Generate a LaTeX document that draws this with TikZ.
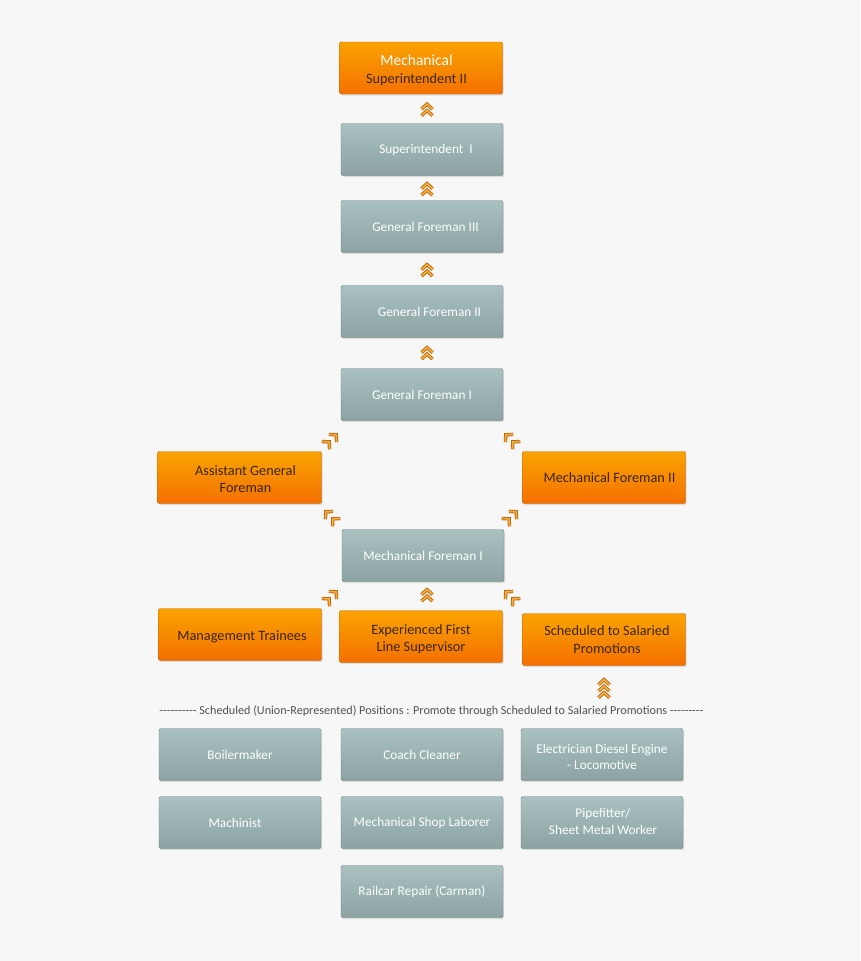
\documentclass[tikz,border=0pt]{standalone}
\usepackage{fontspec}
\setmainfont{Carlito}
\usetikzlibrary{shadows,calc}
\definecolor{bg}{HTML}{F7F7F7}
\definecolor{gtop}{HTML}{A9C1C1}
\definecolor{gbot}{HTML}{8CA2A3}
\definecolor{gline}{HTML}{6C8182}
\definecolor{otop}{HTML}{FAA300}
\definecolor{obot}{HTML}{F47000}
\definecolor{oline}{HTML}{C5640A}
\definecolor{otext}{HTML}{3A2600}
\definecolor{chevdark}{HTML}{B0660F}
\definecolor{chevfill}{HTML}{F7AE3A}
\definecolor{lbl}{HTML}{505050}
\def\hk{-\kern0pt}
\def\chevat#1{%
  \draw[chevdark, line width=3.4pt, line join=miter, miter limit=10] ($(#1)+(-5.5,2.6)$)--($(#1)+(0,-2.4)$)--($(#1)+(5.5,2.6)$);
  \draw[chevfill, line width=1.7pt, line join=miter, miter limit=10] ($(#1)+(-5.5,2.6)$)--($(#1)+(0,-2.4)$)--($(#1)+(5.5,2.6)$);}
% #1 left pad, #2 right pad, #3 vertical raise, #4 text
\newcommand\otx[4]{\hspace*{#1}\raisebox{#3}[\height][\depth]{\begin{tabular}{@{}c@{}}#4\end{tabular}}\hspace*{#2}}
\begin{document}
\begin{tikzpicture}[x=1pt,y=-1pt,
  box/.style={rectangle, minimum width=162pt, minimum height=52pt, rounded corners=1.5pt,
    align=center, inner sep=0pt,
    drop shadow={shadow xshift=1pt, shadow yshift=-1.5pt, opacity=0.22}},
  gbox/.style={box, draw=gline, top color=gtop, bottom color=gbot, text=white,
    font=\fontsize{13.3}{16.5}\selectfont},
  obox/.style={box, draw=oline, top color=otop, bottom color=obot, text=otext,
    font=\fontsize{14.3}{17.5}\selectfont},
  dchev/.pic={\chevat{0,-3}\chevat{0,3.5}},
  diagchev/.pic={\chevat{0,-5}\chevat{0,5}},
  tchev/.pic={\chevat{0,-6}\chevat{0,0.5}\chevat{0,7}}
]
\fill[bg] (0,0) rectangle (860,961);
\useasboundingbox (0,0) rectangle (860,961);

% top column
\node[obox, minimum width=163pt] (sup2) at (421,68)
  {\otx{0pt}{9pt}{-3pt}{{\color{white}\fontsize{15.5}{18.5}\selectfont Mechanical}\\Superintendent II}};
\node[gbox] (sup1) at (422,149.5) {\hspace*{8pt}Superintendent\ \ I};
\node[gbox] (gf3) at (422,226.5) {\hspace*{7pt}General Foreman III};
\node[gbox] (gf2) at (422,311.5) {\hspace*{15pt}General Foreman II};
\node[gbox] (gf1) at (422,394.5) {General Foreman I};

\node[obox, minimum width=164pt] (agf) at (239.5,477.5) {\otx{12pt}{0pt}{-3pt}{Assistant General\\Foreman}};
\node[obox, minimum width=163pt] (mf2) at (604,477.5) {\hspace*{11pt}Mechanical Foreman II};
\node[gbox] (mf1) at (423,555.5) {Mechanical Foreman I};

\node[obox, minimum width=163pt] (mt) at (240,634.5) {\otx{4pt}{0pt}{-2.5pt}{Management Trainees}};
\node[obox, minimum width=163pt] (efls) at (421,636.5) {\otx{0pt}{0pt}{-3pt}{Experienced First\\Line Supervisor}};
\node[obox, minimum width=163pt] (ssp) at (604,639.5) {\otx{6pt}{0pt}{-1.5pt}{Scheduled to Salaried\\Promotions}};

\node[text=lbl, font=\fontsize{12.15}{14}\selectfont, inner sep=0pt] (lab) at (431.5,711)
  {\hk\hk\hk\hk\hk\hk\hk\hk\hk\hk{} Scheduled (Union-Represented) Positions : Promote through Scheduled to Salaried Promotions \hk\hk\hk\hk\hk\hk\hk\hk\hk};

\node[gbox] (boil) at (240,754.5) {Boilermaker};
\node[gbox] (coach) at (422,754.5) {Coach Cleaner};
\node[gbox] (elec) at (602,754.5) {\otx{0pt}{0pt}{-3.5pt}{Electrician Diesel Engine\\- Locomotive}};
\node[gbox] (mach) at (240,822.5) {Machinist\hspace*{10pt}};
\node[gbox] (msl) at (422,822.5) {Mechanical Shop Laborer};
\node[gbox] (pipe) at (602,822.5) {\otx{2pt}{0pt}{0pt}{Pipefitter/\\Sheet Metal Worker}};
\node[gbox] (rail) at (422,891.5) {Railcar Repair (Carman)};

% chevrons
\pic at (427,109.5) {dchev};
\pic at (427,189) {dchev};
\pic at (427,270) {dchev};
\pic at (427,353) {dchev};
\pic at (427,595) {dchev};
\pic at (604,688) {tchev};
\pic[rotate=-45] at (331,440) {diagchev};
\pic[rotate=45] at (511,440) {diagchev};
\pic[rotate=45] at (331,517) {diagchev};
\pic[rotate=-45] at (511,517) {diagchev};
\pic[rotate=-45] at (331,597) {diagchev};
\pic[rotate=45] at (511,597) {diagchev};
\end{tikzpicture}
\end{document}
